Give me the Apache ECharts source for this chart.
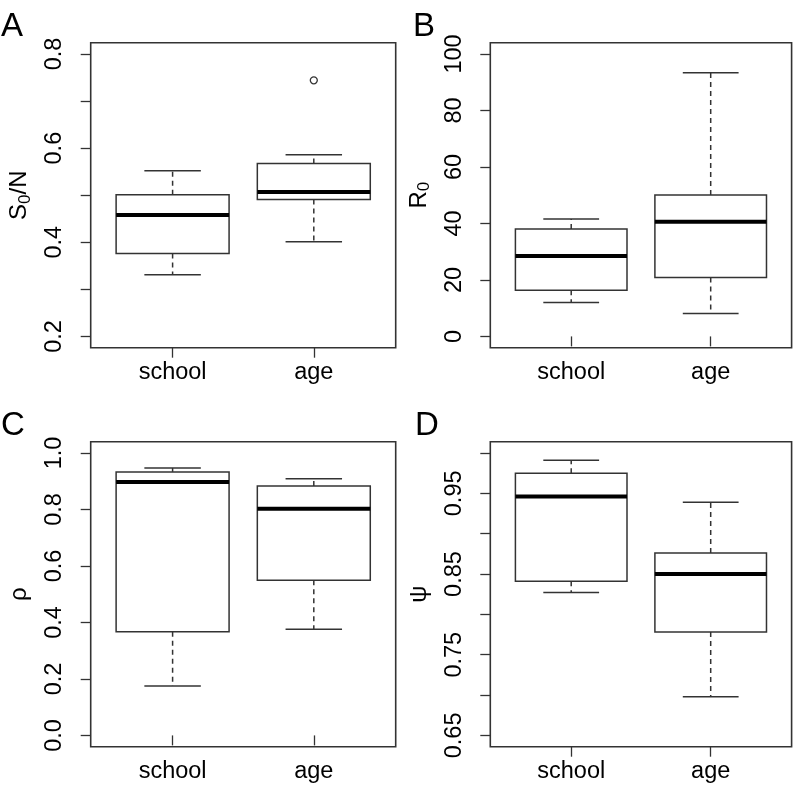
<!DOCTYPE html>
<html><head><meta charset="utf-8">
<script src="https://cdn.jsdelivr.net/npm/echarts@6/dist/echarts.min.js"></script>
<style>html,body{margin:0;padding:0;background:#fff}#c{width:796px;height:786px}</style>
</head><body><div id="c"></div>
<script>
// ---- data ----
const categories = ['school', 'age'];
// [lower whisker, Q1, median, Q3, upper whisker]
const s0N  = [[0.331, 0.376, 0.458, 0.501, 0.552], [0.401, 0.491, 0.507, 0.5675, 0.586]];
const s0NOutliers = [['age', 0.744]];
const r0   = [[12.0, 16.3, 28.5, 38.0, 41.6], [8.1, 20.9, 40.6, 50.1, 93.4]];
const rho  = [[0.175, 0.367, 0.8976, 0.933, 0.947], [0.3755, 0.549, 0.803, 0.883, 0.909]];
const psi  = [[0.827, 0.841, 0.946, 0.975, 0.991], [0.698, 0.778, 0.850, 0.876, 0.939]];
// axis ticks / labels
const ticksA = [0.2, 0.3, 0.4, 0.5, 0.6, 0.7, 0.8];
const labelsA = [0.2, 0.4, 0.6, 0.8];
const ticksB = [0, 20, 40, 60, 80, 100];
const labelsB = [0, 20, 40, 60, 80, 100];
const ticksC = [0.0, 0.2, 0.4, 0.6, 0.8, 1.0];
const labelsC = [0.0, 0.2, 0.4, 0.6, 0.8, 1.0];
const ticksD = [0.65, 0.70, 0.75, 0.80, 0.85, 0.90, 0.95, 1.00];
const labelsD = [0.65, 0.75, 0.85, 0.95];
const panelLetters = ['A', 'B', 'C', 'D'];

const FONT = "'Liberation Sans', Arial, Helvetica, sans-serif";
const LINE = '#333';

function ext(lo, hi) { const d = (hi - lo) * 0.04; return [lo - d, hi + d]; }

const grids = [
  {left: 90.7, top: 42.7, width: 305, height: 305},
  {left: 490.3, top: 42.7, width: 301.3, height: 305},
  {left: 90.7, top: 441.7, width: 305, height: 305},
  {left: 490.3, top: 441.7, width: 301.3, height: 305}
];
const panels = [
  {data: s0N, ticks: ticksA, labels: labelsA, lim: ext(0.2, 0.8), dec: 1,
   name: '{a|S}{s|0}{a|/N}'},
  {data: r0, ticks: ticksB, labels: labelsB, lim: ext(0, 100), dec: 0, name: '{a|R}{s|0}'},
  {data: rho, ticks: ticksC, labels: labelsC, lim: ext(0, 1), dec: 1, name: '{a|ρ}'},
  {data: psi, ticks: ticksD, labels: labelsD, lim: ext(0.65, 1.0), dec: 2, name: '{a|ψ}'}
];

const xAxis = [], yAxis = [], series = [];
panels.forEach((p, i) => {
  xAxis.push({
    type: 'value', gridIndex: i, min: 0.42, max: 2.58,
    axisLine: {show: false}, splitLine: {show: false},
    axisTick: {show: true, customValues: [1, 2], length: 10, lineStyle: {color: LINE, width: 1.3}},
    axisLabel: {customValues: [1, 2], formatter: v => categories[Math.round(v) - 1],
      fontSize: 23.5, color: '#000', fontFamily: FONT, margin: 13}
  });
  yAxis.push({
    type: 'value', gridIndex: i, min: p.lim[0], max: p.lim[1],
    axisLine: {show: false}, splitLine: {show: false},
    axisTick: {show: true, customValues: p.ticks, length: 10, lineStyle: {color: LINE, width: 1.3}},
    axisLabel: {customValues: p.labels, rotate: 90, formatter: v => v.toFixed(p.dec),
      fontSize: 23.5, color: '#000', fontFamily: FONT, margin: 24},
    name: p.name, nameLocation: 'middle', nameRotate: 90, nameGap: 57,
    nameTextStyle: {color: '#000', fontFamily: FONT,
      rich: {a: {fontSize: 24, fontFamily: FONT, color: '#000', lineHeight: 28},
             s: {fontSize: 17, fontFamily: FONT, color: '#000', verticalAlign: 'bottom', lineHeight: 15}}}
  });
  const rows = p.data.map((d, k) => [k + 1].concat(d));
  series.push({
    type: 'custom', xAxisIndex: i, yAxisIndex: i, data: rows, clip: false,
    renderItem: function (params, api) {
      const x = api.value(0);
      const lo = api.value(1), q1 = api.value(2), md = api.value(3), q3 = api.value(4), hi = api.value(5);
      const w = api.size([0.8, 0])[0];
      const pLo = api.coord([x, lo]), pQ1 = api.coord([x, q1]), pMd = api.coord([x, md]);
      const pQ3 = api.coord([x, q3]), pHi = api.coord([x, hi]);
      const cx = pMd[0];
      const ls = {stroke: LINE, lineWidth: 1.5, fill: null};
      const dash = {stroke: LINE, lineWidth: 1.5, lineDash: [5, 4]};
      return {type: 'group', children: [
        {type: 'line', shape: {x1: cx, y1: pQ3[1], x2: cx, y2: pHi[1]}, style: dash},
        {type: 'line', shape: {x1: cx, y1: pQ1[1], x2: cx, y2: pLo[1]}, style: dash},
        {type: 'line', shape: {x1: cx - w / 4, y1: pHi[1], x2: cx + w / 4, y2: pHi[1]}, style: ls},
        {type: 'line', shape: {x1: cx - w / 4, y1: pLo[1], x2: cx + w / 4, y2: pLo[1]}, style: ls},
        {type: 'rect', shape: {x: cx - w / 2, y: pQ3[1], width: w, height: pQ1[1] - pQ3[1]},
          style: {stroke: LINE, lineWidth: 1.5, fill: '#fff'}},
        {type: 'line', shape: {x1: cx - w / 2, y1: pMd[1], x2: cx + w / 2, y2: pMd[1]},
          style: {stroke: '#000', lineWidth: 4}}
      ]};
    }
  });
});
series.push({
  type: 'scatter', xAxisIndex: 0, yAxisIndex: 0,
  data: s0NOutliers.map(o => [categories.indexOf(o[0]) + 1, o[1]]),
  symbol: 'circle', symbolSize: 7,
  itemStyle: {color: '#fff', borderColor: '#000', borderWidth: 1.3}
});

const letterPos = [[1, 10], [413, 10], [1, 409], [415, 409]];
const chart = echarts.init(document.getElementById('c'));
chart.setOption({
  animation: false,
  backgroundColor: '#fff',
  grid: grids.map(g => Object.assign({show: true, borderColor: LINE, borderWidth: 1.6,
    backgroundColor: 'transparent', containLabel: false}, g)),
  xAxis, yAxis, series,
  graphic: panelLetters.map((t, i) => ({
    type: 'text', left: letterPos[i][0], top: letterPos[i][1],
    style: {text: t, fontSize: 33, fontFamily: FONT, fill: '#000'}
  }))
});
</script></body></html>
